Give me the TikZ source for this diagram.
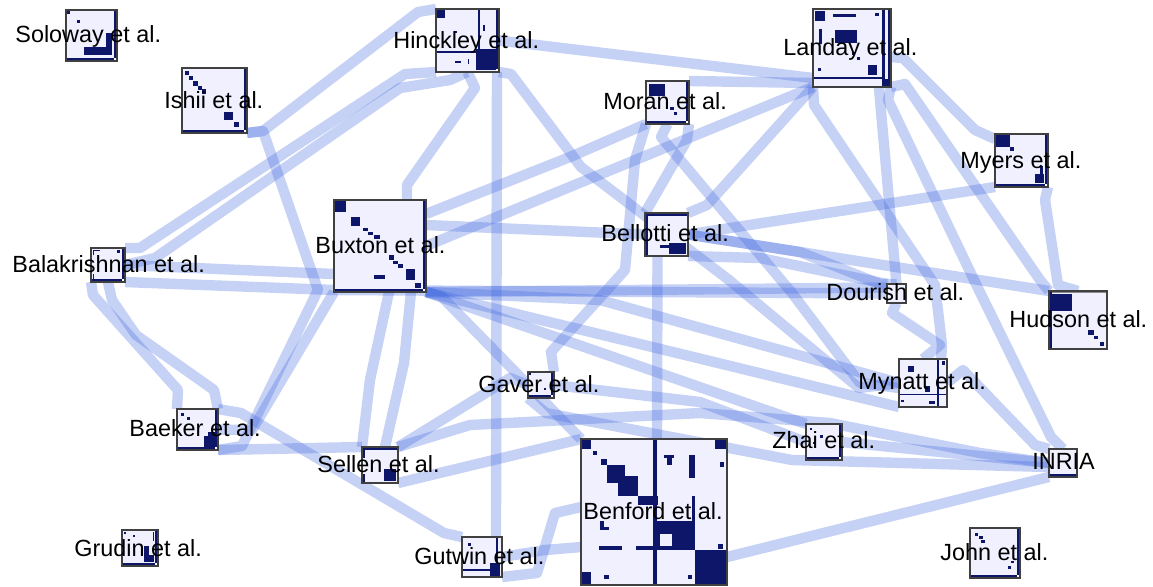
\documentclass[tikz,border=0pt]{standalone}
\usepackage{fontspec}
\setmainfont{Liberation Sans}
\usetikzlibrary{calc}
\pgfdeclarelayer{links}
\pgfsetlayers{links,main}
\definecolor{cellc}{RGB}{14,22,105}
\definecolor{matbg}{RGB}{240,240,255}
\definecolor{linkc}{RGB}{65,105,225}
\tikzset{
 link/.style={draw=linkc, draw opacity=0.3, line width=5.2pt, line join=round},
 cell/.style={fill=cellc},
 frame/.style={draw=black!75, line width=0.6pt, inner sep=0pt, outer sep=0pt},
 lab/.style={font=\fontsize{11.7}{14}\selectfont, inner sep=0pt, anchor=base west, text=black},
}
\newcommand\mat[5]{%
  \fill[matbg] (#2,#3) rectangle ++(#4,#4);
  \begin{scope}[shift={(#2,#3)},x=#4*0.5pt,y=-#4*0.5pt]
    \pgfmathsetmacro\tk{3.2/#4}
    #5
  \end{scope}
  \node[frame,minimum size=#4*0.5pt,anchor=north west] (#1) at (#2,#3) {};
}
\newcommand\mBot{\fill[cell] (0,1-\tk) rectangle (1,1);}
\newcommand\mRgt{\fill[cell] (1-\tk,0) rectangle (1,1);\fill[white] (1-\tk,1-\tk) rectangle (1,1);}
\newcommand\mTop{\fill[cell] (0,0) rectangle (1,\tk);}
\newcommand\mLft{\fill[cell] (0,0) rectangle (\tk,1);}
\newcommand\cb[4]{\fill[cell] (#1,#2) rectangle (#3,#4);}
\begin{document}
\begin{tikzpicture}[x=0.5pt,y=-0.5pt]
\useasboundingbox (0,0) rectangle (1153,586);

% ---------------- matrices ----------------
\mat{sol}{66}{10}{51}{\mBot\mRgt\cb{0.02}{0.02}{0.08}{0.08}\cb{0.22}{0.2}{0.28}{0.26}\cb{0.35}{0.72}{0.9}{0.88}\cb{0.78}{0.45}{0.9}{0.88}}
\mat{ish}{182}{68}{65}{\mBot\mRgt\cb{0.05}{0.05}{0.1}{0.1}\cb{0.1}{0.12}{0.17}{0.19}\cb{0.17}{0.2}{0.24}{0.27}\cb{0.24}{0.27}{0.31}{0.34}\cb{0.3}{0.33}{0.37}{0.4}\cb{0.65}{0.67}{0.78}{0.8}\cb{0.8}{0.83}{0.87}{0.9}}
\mat{hin}{436}{9}{63}{\mRgt\cb{0.02}{0.02}{0.15}{0.14}\cb{0.66}{0}{0.7}{0.65}\cb{0.02}{0.66}{0.66}{0.7}\cb{0.64}{0.64}{0.95}{0.97}\cb{0.3}{0.83}{0.4}{0.86}\cb{0.5}{0.8}{0.53}{0.88}\cb{0.74}{0.25}{0.77}{0.35}\cb{0.28}{0.35}{0.34}{0.38}}
\mat{mor}{646}{81}{43}{\mBot\mRgt\cb{0.07}{0.07}{0.45}{0.35}\cb{0.55}{0.6}{0.65}{0.68}\cb{0.65}{0.72}{0.72}{0.8}}
\mat{lan}{813}{9}{78}{\cb{0}{0.87}{0.88}{0.9}\cb{0.88}{0}{0.92}{1}\cb{0.96}{0}{1}{1}\cb{0.88}{0.9}{1}{1}\cb{0.03}{0.03}{0.15}{0.15}\cb{0.25}{0.07}{0.55}{0.1}\cb{0.8}{0.05}{0.84}{0.09}\cb{0.28}{0.27}{0.56}{0.43}\cb{0.08}{0.25}{0.11}{0.45}\cb{0.5}{0.55}{0.54}{0.59}\cb{0.56}{0.61}{0.6}{0.65}\cb{0.7}{0.72}{0.82}{0.85}\cb{0.06}{0.75}{0.1}{0.79}}
\mat{mye}{995}{134}{53}{\mBot\mRgt\cb{0.02}{0.02}{0.28}{0.25}\cb{0.28}{0.25}{0.35}{0.32}\cb{0.75}{0.75}{0.92}{0.92}\cb{0.85}{0.6}{0.9}{0.75}}
\mat{bal}{91}{248}{34}{\mBot\mRgt\cb{0.05}{0.05}{0.1}{0.2}\cb{0.05}{0.05}{0.25}{0.1}\cb{0.75}{0.05}{0.85}{0.15}\cb{0.05}{0.75}{0.1}{0.9}}
\mat{bux}{334}{200}{92}{\mBot\mRgt\cb{0.01}{0.01}{0.13}{0.13}\cb{0.18}{0.18}{0.28}{0.28}\cb{0.32}{0.3}{0.37}{0.34}\cb{0.37}{0.35}{0.42}{0.38}\cb{0.43}{0.38}{0.5}{0.42}\cb{0.6}{0.6}{0.65}{0.65}\cb{0.64}{0.66}{0.7}{0.7}\cb{0.7}{0.7}{0.75}{0.74}\cb{0.78}{0.75}{0.88}{0.87}\cb{0.44}{0.82}{0.55}{0.86}\cb{0.88}{0.9}{0.95}{0.96}}
\mat{bel}{645}{213}{43}{\mTop\mLft\cb{0.35}{0.75}{0.6}{0.82}\cb{0.55}{0.7}{0.95}{0.95}}
\mat{dou}{887}{284}{19}{}
\mat{hud}{1049}{291}{58}{\fill[black!45] (0,0) rectangle (1,0.04);\mLft\cb{0.05}{0.05}{0.4}{0.35}\cb{0.68}{0.68}{0.78}{0.76}\cb{0.78}{0.77}{0.85}{0.83}\cb{0.88}{0.88}{0.95}{0.95}}
\mat{gav}{528}{372}{26}{\mBot\mRgt\cb{0.02}{0.02}{0.12}{0.12}\cb{0.6}{0.6}{0.7}{0.7}}
\mat{myn}{899}{359}{48}{\cb{0.8}{0}{0.84}{1}\cb{0}{0.72}{1}{0.76}\cb{0.18}{0.15}{0.32}{0.28}\cb{0.55}{0.57}{0.65}{0.68}\cb{0.62}{0.87}{0.75}{0.94}\cb{0.05}{0.85}{0.1}{0.9}\cb{0.9}{0.05}{0.95}{0.12}}
\mat{bae}{177}{409}{41}{\mBot\mRgt\cb{0.1}{0.1}{0.17}{0.17}\cb{0.25}{0.2}{0.32}{0.27}\cb{0.65}{0.65}{0.92}{0.92}\cb{0.75}{0.55}{0.92}{0.92}}
\mat{zha}{806}{424}{36}{\mBot\mRgt\cb{0.1}{0.1}{0.18}{0.18}\cb{0.4}{0.3}{0.48}{0.38}\cb{0.2}{0.5}{0.25}{0.55}}
\mat{inr}{1049}{449}{28}{\mBot}
\mat{sel}{362}{447}{36}{\mTop\cb{0}{0}{0.08}{0.3}\cb{0}{0.75}{0.08}{1}\cb{0.6}{0.6}{0.95}{0.95}}
\mat{ben}{581}{439}{146}{\cb{0.49}{0}{0.52}{1}\cb{0}{0}{0.07}{0.07}\cb{0.92}{0}{1}{0.07}\cb{0}{0.91}{0.07}{1}\cb{0.08}{0.08}{0.11}{0.11}\cb{0.14}{0.14}{0.18}{0.18}\cb{0.18}{0.18}{0.3}{0.3}\cb{0.25}{0.25}{0.39}{0.39}\cb{0.39}{0.39}{0.53}{0.45}\cb{0.57}{0.11}{0.64}{0.13}\cb{0.59}{0.11}{0.62}{0.18}\cb{0.74}{0.11}{0.78}{0.27}\cb{0.95}{0.16}{0.98}{0.19}\cb{0.76}{0.39}{0.78}{0.56}\cb{0.49}{0.56}{0.78}{0.76}\fill[matbg] (0.54,0.65) rectangle (0.62,0.73);\cb{0.78}{0.76}{1}{1}\cb{0.12}{0.73}{0.28}{0.76}\cb{0.38}{0.73}{0.49}{0.76}\cb{0.13}{0.56}{0.16}{0.62}\cb{0.13}{0.6}{0.19}{0.62}\cb{0.94}{0.72}{0.97}{0.75}\cb{0.16}{0.93}{0.19}{0.96}\cb{0.73}{0.93}{0.76}{0.96}}
\mat{gru}{122}{530}{36}{\mBot\mRgt\cb{0.05}{0.05}{0.12}{0.12}\cb{0.3}{0.15}{0.35}{0.2}\cb{0.6}{0.45}{0.75}{0.9}\cb{0.7}{0.7}{0.9}{0.9}\cb{0.85}{0.05}{0.9}{0.3}}
\mat{gut}{462}{537}{40}{\cb{0}{0.8}{0.85}{0.84}\cb{0.85}{0}{0.9}{0.84}\cb{0.15}{0.15}{0.22}{0.22}\cb{0.7}{0.65}{0.95}{0.97}}
\mat{joh}{970}{528}{50}{\mBot\mRgt\cb{0.1}{0.1}{0.16}{0.16}\cb{0.18}{0.15}{0.25}{0.22}\cb{0.22}{0.24}{0.3}{0.3}\cb{0.75}{0.75}{0.82}{0.82}\cb{0.82}{0.65}{0.88}{0.7}}

% ---------------- links ----------------
\begin{pgfonlayer}{links}
\fill[white] (0,0) rectangle (1153,586);
\draw[link] (ish.south east) -- (263,131) -- (418,12) -- (hin.north west);
\draw[link] (ish.south east) -- (263,131) -- (318,290) -- (242,446) -- (bae.south east);
\draw[link] (bux.south west) -- (252,430) -- (bae.east);
\draw[link] (bal.north east) -- (140,248) -- (405,74) -- (hin.south west);
\draw[link] (bal.east) -- (155,258) -- (400,88) -- (450,80) -- (hin.south);
\draw[link] (bal.east) -- ($(bux.west)+(0,28)$);
\draw[link] (bal.south east) -- (334,290) -- (dou.west);
\draw[link] (bal.south west) -- (93,295) -- (178,390) -- (bae.north west);
\draw[link] (bal.south) -- (112,300) -- (136,335) -- (214,390) -- (bae.north east);
\draw[link] (bae.south east) -- (sel.north west);
\draw[link] (bae.north east) -- (241,413) -- (307,452) -- (444,533) -- (gut.north west);
\draw[link] (sel.north west) -- (370,380) -- ($(bux.south)+(9,0)$);
\draw[link] ($(sel.north)+(5,0)$) -- (404,363) -- ($(bux.south east)+(-15,0)$);
\draw[link] (sel.north east) -- (510,378) -- (gav.west);
\draw[link] (sel.south east) -- (ben.north west);
\draw[link] (sel.north east) -- (470,425) -- (700,413) -- (830,423) -- (980,453) -- (inr.west);
\draw[link] (gut.south east) -- (537,573) -- (555,513) -- ($(ben.west)+(0,-5)$);
\draw[link] (gut.east) -- (545,550) -- ($(ben.west)+(0,35)$);
\draw[link] ($(hin.south east)+(-2,0)$) -- (496,525) -- ($(gut.north east)+(-6,0)$);
\draw[link] (hin.south) -- (475,88) -- (407,185) -- ($(bux.north east)+(-19,0)$);
\draw[link] (hin.south east) -- (511,74) -- (581,167) -- (729,280) -- (859,388) -- (myn.west);
\draw[link] (hin.east) -- ($(lan.south west)+(0,-9)$);
\draw[link] (mor.north east) -- ($(lan.south west)+(0,-4)$);
\draw[link] (mor.south west) -- (570,157) -- ($(bux.north east)+(0,14)$);
\draw[link] (mor.south) -- (661,137) -- (792,293) -- (860,383) -- ($(myn.west)+(0,5)$);
\draw[link] (mor.south east) -- (687,140) -- (bel.north west);
\draw[link] (gav.north east) -- (551,352) -- (625,270) -- (635,160) -- (mor.south west);
\draw[link] (lan.south west) -- (bux.east);
\draw[link] (lan.south west) -- (707,205) -- (bel.north east);
\draw[link] (lan.south west) -- (814,105) -- (935,285) -- (942,345) -- ($(myn.north east)+(-6,0)$);
\draw[link] ($(lan.south east)+(-12,0)$) -- (880,100) -- (dou.north);
\draw[link] (lan.south east) -- (888,100) -- (975,282) -- (1051,437) -- (inr.north);
\draw[link] (lan.south east) -- (905,84) -- (1040,280) -- (hud.north west);
\draw[link] ($(lan.east)+(0,9)$) -- (903,58) -- (975,130) -- ($(mye.north west)+(0,5)$);
\draw[link] (mye.south west) -- (bel.east);
\draw[link] (mye.south east) -- (1045,200) -- (1058,285) -- (hud.north);
\draw[link] (bel.south east) -- (760,258) -- (dou.north west);
\draw[link] (bel.east) -- (800,252) -- (880,284) -- (dou.north);
\draw[link] (bel.east) -- (1030,288) -- (hud.north west);
\draw[link] ($(bel.south)+(-9,0)$) -- ($(ben.north)+(3,0)$);
\draw[link] (bel.west) -- ($(bux.north east)+(0,25)$);
\draw[link] (bux.south east) -- ($(dou.west)+(0,-6)$);
\draw[link] (bux.south east) -- (myn.south west);
\draw[link] (bux.south east) -- (600,300) -- (myn.west);
\draw[link] (bux.south east) -- (441,296) -- (ben.north west);
\draw[link] (bux.south east) -- (zha.north west);
\draw[link] (gav.south west) -- (546,413) -- (792,460) -- ($(inr.west)+(0,4)$);
\draw[link] (gav.east) -- (700,402) -- (zha.west);
\draw[link] ($(ben.east)+(0,45)$) -- (inr.south west);
\draw[link] (myn.east) -- (963,370) -- (1035,445) -- (inr.north west);
\draw[link] (myn.north) -- (940,345) -- (892,313) -- (dou.south);
\draw[link] (zha.east) -- (inr.west);
\end{pgfonlayer}

% ---------------- labels ----------------
\node[lab] (solL) at (15,42) {Soloway et al.};
\node[lab] (ishL) at (164,108) {Ishii et al.};
\node[lab] (hinL) at (393,48) {Hinckley et al.};
\node[lab] (morL) at (603,109) {Moran et al.};
\node[lab] (lanL) at (783,55) {Landay et al.};
\node[lab] (myeL) at (960,168) {Myers et al.};
\node[lab] (balL) at (12,272) {Balakrishnan et al.};
\node[lab] (buxL) at (315,253) {Buxton et al.};
\node[lab] (belL) at (601,241) {Bellotti et al.};
\node[lab] (gavL) at (478,392) {Gaver et al.};
\node[lab] (douL) at (826,300) {Dourish et al.};
\node[lab] (hudL) at (1009,327) {Hudson et al.};
\node[lab] (mynL) at (858,389) {Mynatt et al.};
\node[lab] (zhaL) at (772,448) {Zhai et al.};
\node[lab] (inrL) at (1032,469) {INRIA};
\node[lab] (baeL) at (129,436) {Baeker et al.};
\node[lab] (selL) at (317,472) {Sellen et al.};
\node[lab] (gruL) at (74,556) {Grudin et al.};
\node[lab] (gutL) at (414,564) {Gutwin et al.};
\node[lab] (benL) at (583,519) {Benford et al.};
\node[lab] (johL) at (940,560) {John et al.};
\end{tikzpicture}
\end{document}
